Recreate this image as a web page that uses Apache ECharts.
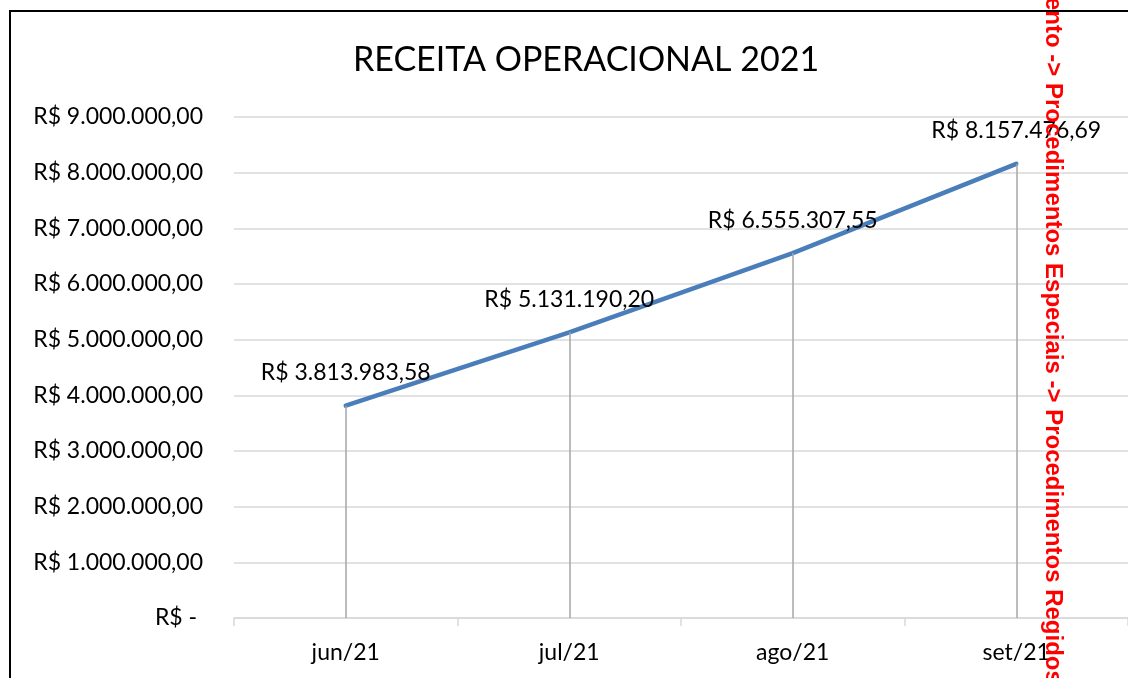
<!DOCTYPE html>
<html>
<head>
<meta charset="utf-8">
<script src="https://cdn.jsdelivr.net/npm/echarts@6/dist/echarts.min.js"></script>
<style>
  html, body { margin: 0; padding: 0; background: #ffffff; }
  #chart { width: 1128px; height: 678px; }
</style>
</head>
<body>
<div id="chart"></div>
<script>
// Receita operacional mensal (R$)
const meses = ['jun/21', 'jul/21', 'ago/21', 'set/21'];
const receita = [3813983.58, 5131190.20, 6555307.55, 8157476.69];
const tituloGrafico = 'RECEITA OPERACIONAL 2021';
const notaLateral = 'ento -> Procedimentos Especiais -> Procedimentos Regidos';

// Formato contábil brasileiro: R$ 1.234.567,89
function formatoReal(v) {
  if (v === 0) return 'R$ - ';
  const partes = v.toFixed(2).split('.');
  const inteiro = partes[0].replace(/\B(?=(\d{3})+(?!\d))/g, '.');
  return 'R$ ' + inteiro + ',' + partes[1];
}

const fonte = 'Lato, "Open Sans", sans-serif';
const chart = echarts.init(document.getElementById('chart'), null, { renderer: 'canvas' });

chart.setOption({
  backgroundColor: '#ffffff',
  animation: false,
  title: {
    text: tituloGrafico,
    left: 348,
    top: 38,
    textStyle: { fontFamily: fonte, fontSize: 34, fontWeight: 'normal', color: '#000000' }
  },
  grid: { left: 234, right: -2, top: 117, bottom: 60, containLabel: false },
  xAxis: {
    type: 'category',
    data: meses,
    boundaryGap: true,
    axisLine: { lineStyle: { color: '#d9d9d9', width: 1.5 } },
    axisTick: { show: true, length: 8, lineStyle: { color: '#d9d9d9', width: 1.5 } },
    axisLabel: { fontFamily: fonte, fontSize: 23, color: '#000000', margin: 23 }
  },
  yAxis: {
    type: 'value',
    min: 0,
    max: 9000000,
    interval: 1000000,
    axisLine: { show: false },
    axisTick: { show: false },
    splitLine: { lineStyle: { color: '#d9d9d9', width: 1.5 } },
    axisLabel: {
      fontFamily: fonte, fontSize: 23, color: '#000000', margin: 31,
      formatter: formatoReal
    }
  },
  series: [{
    type: 'line',
    data: receita,
    symbol: 'circle',
    symbolSize: 1,
    showSymbol: true,
    itemStyle: { color: '#4a7ebb', opacity: 0 },
    lineStyle: { color: '#4a7ebb', width: 4.5, cap: 'round' },
    label: {
      show: true,
      position: 'top',
      distance: 21,
      fontFamily: fonte,
      fontSize: 23,
      color: '#000000',
      opacity: 1,
      formatter: p => formatoReal(p.value)
    },
    labelLayout: { hideOverlap: false },
    markLine: {
      silent: true,
      symbol: ['none', 'none'],
      label: { show: false },
      lineStyle: { color: '#a6a6a6', width: 1.5, type: 'solid' },
      data: receita.map((v, i) => [{ coord: [meses[i], 0] }, { coord: [meses[i], v] }])
    },
    z: 3
  }],
  graphic: [
    {
      type: 'rect',
      shape: { x: 10, y: 11, width: 1200, height: 720 },
      style: { fill: 'none', stroke: '#000000', lineWidth: 2 },
      z: 10
    },
    {
      type: 'text',
      x: 1053,
      y: -3,
      rotation: -Math.PI / 2,
      style: {
        text: notaLateral,
        fill: '#ff0000',
        font: 'bold 24px "Liberation Sans", Arial, sans-serif',
        textAlign: 'left',
        textVerticalAlign: 'middle'
      },
      z: 20
    }
  ]
});
</script>
</body>
</html>
